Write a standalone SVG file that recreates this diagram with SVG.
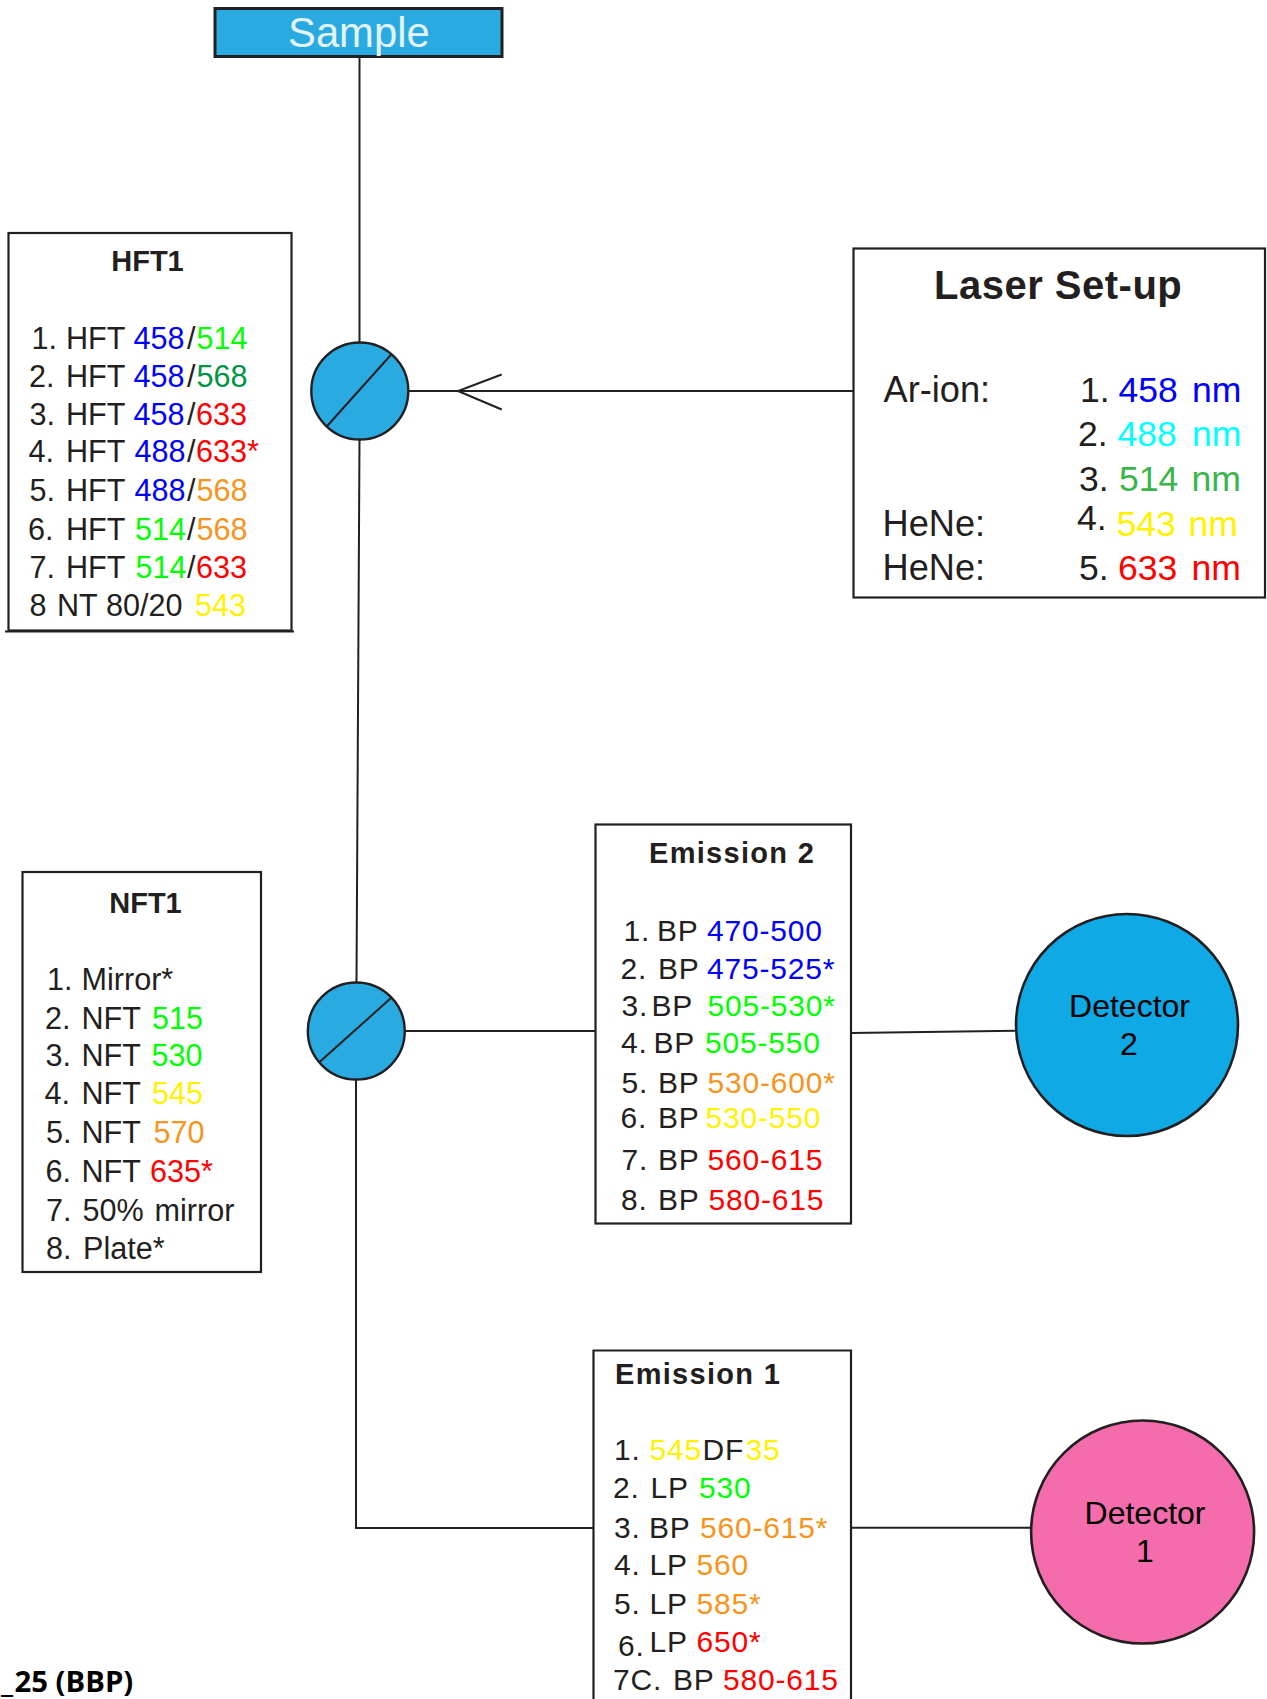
<svg xmlns="http://www.w3.org/2000/svg" width="1267" height="1699" viewBox="0 0 1267 1699">
<style>
text{font-family:"Liberation Sans",Arial,sans-serif;fill:#231f20}
.box{fill:#fff;stroke:#231f20;stroke-width:2.2}
.ln{fill:none;stroke:#231f20;stroke-width:2}
.cir{fill:#29abe2;stroke:#231f20;stroke-width:2.4}
.ttl{font-weight:bold;font-size:29px}
.h{font-size:30.6px}
.l{font-size:35.6px}
.n{font-size:30.6px}
.e{font-size:30px}
.e tspan{letter-spacing:.8px}
.det{font-size:32px;fill:#000;text-anchor:middle}
.B{fill:#0000ff}.G{fill:#00ff00}.D{fill:#009444}.O{fill:#f7941d}.Y{fill:#fff200}.R{fill:#ff0000}.C{fill:#00ffff}.M{fill:#39b54a}
</style>
<g id="connectors">
<path class="ln" d="M359.5 57V342"/>
<path class="ln" d="M359.5 440L356.5 982"/>
<path class="ln" d="M356 1080V1528H593"/>
<path class="ln" d="M408 391H853"/>
<path class="ln" d="M501.7 374.5L458 391L501.7 409.5"/>
<path class="ln" d="M405 1031H595"/>
<path class="ln" d="M851 1033L1016 1030.7"/>
<path class="ln" d="M851 1527.7H1033"/>
</g>
<g id="sample">
<rect x="215" y="8.5" width="287" height="48" fill="#29abe2" stroke="#231f20" stroke-width="3"/>
<text x="288" y="47" font-size="41.8" style="fill:#e4f3fa">Sample</text>
</g>
<g id="hft1">
<rect class="box" x="8.5" y="233" width="283" height="397.5" stroke-width="2.6"/>
<path class="ln" d="M5 631.5H294" stroke-width="2.4"/>
<text class="ttl" x="147.5" y="271" text-anchor="middle">HFT1</text>
<text class="h" y="349"><tspan x="31.5">1.</tspan><tspan x="66">HFT</tspan><tspan x="133.5" class="B">458</tspan><tspan x="187">/</tspan><tspan x="196.5" class="G">514</tspan></text>
<text class="h" y="386.5"><tspan x="29">2.</tspan><tspan x="66">HFT</tspan><tspan x="133.5" class="B">458</tspan><tspan x="187">/</tspan><tspan x="196.5" class="D">568</tspan></text>
<text class="h" y="424.5"><tspan x="29.5">3.</tspan><tspan x="66">HFT</tspan><tspan x="133.5" class="B">458</tspan><tspan x="187">/</tspan><tspan x="196" class="R">633</tspan></text>
<text class="h" y="462"><tspan x="28.5">4.</tspan><tspan x="66">HFT</tspan><tspan x="134.5" class="B">488</tspan><tspan x="187">/</tspan><tspan x="196" class="R">633*</tspan></text>
<text class="h" y="501"><tspan x="29.5">5.</tspan><tspan x="66">HFT</tspan><tspan x="134.5" class="B">488</tspan><tspan x="187">/</tspan><tspan x="196.5" class="O">568</tspan></text>
<text class="h" y="539.6"><tspan x="28">6.</tspan><tspan x="66">HFT</tspan><tspan x="135" class="G">514</tspan><tspan x="187">/</tspan><tspan x="196.5" class="O">568</tspan></text>
<text class="h" y="578.4"><tspan x="29.5">7.</tspan><tspan x="66">HFT</tspan><tspan x="135.5" class="G">514</tspan><tspan x="187">/</tspan><tspan x="196" class="R">633</tspan></text>
<text class="h" y="615.5"><tspan x="29.5">8</tspan><tspan x="57">NT</tspan><tspan x="106">80/20</tspan><tspan x="195" class="Y">543</tspan></text>
</g>
<g id="dichroic1">
<circle class="cir" cx="359.8" cy="391" r="48.5"/>
<path class="ln" d="M391.7 354L326.7 426.5"/>
</g>
<g id="laser">
<rect class="box" x="853.5" y="248.5" width="411.5" height="349" stroke-width="2.6"/>
<text class="ttl" x="934" y="299" style="font-size:40px;letter-spacing:.5px">Laser Set-up</text>
<text class="l" x="883.5" y="401.7" style="font-size:36.2px">Ar-ion:</text>
<text class="l" x="882.5" y="535.5" style="font-size:36.2px">HeNe:</text>
<text class="l" x="882.5" y="580" style="font-size:36.2px">HeNe:</text>
<text class="l" y="401.7"><tspan x="1080">1.</tspan><tspan x="1118.5" class="B">458</tspan><tspan x="1192" class="B">nm</tspan></text>
<text class="l" y="445.7"><tspan x="1078">2.</tspan><tspan x="1117.5" class="C">488</tspan><tspan x="1192" class="C">nm</tspan></text>
<text class="l" y="490.7"><tspan x="1079">3.</tspan><tspan x="1119" class="M">514</tspan><tspan x="1191.5" class="M">nm</tspan></text>
<text class="l" y="530"><tspan x="1077">4.</tspan></text>
<text class="l" y="535.5"><tspan x="1116.5" class="Y">543</tspan><tspan x="1188.5" class="Y">nm</tspan></text>
<text class="l" y="579.8"><tspan x="1079">5.</tspan><tspan x="1118" class="R">633</tspan><tspan x="1191.5" class="R">nm</tspan></text>
</g>
<g id="nft1">
<rect class="box" x="22.5" y="872" width="238.5" height="400"/>
<text class="ttl" x="145.5" y="913" text-anchor="middle">NFT1</text>
<text class="n" y="989.8"><tspan x="47">1.</tspan><tspan x="81.5">Mirror*</tspan></text>
<text class="n" y="1028.8"><tspan x="45">2.</tspan><tspan x="81.5">NFT</tspan><tspan x="152" class="G">515</tspan></text>
<text class="n" y="1065.5"><tspan x="45.5">3.</tspan><tspan x="81.5">NFT</tspan><tspan x="151.5" class="G">530</tspan></text>
<text class="n" y="1104.3"><tspan x="44.5">4.</tspan><tspan x="81.5">NFT</tspan><tspan x="152" class="Y">545</tspan></text>
<text class="n" y="1142.7"><tspan x="46">5.</tspan><tspan x="81.5">NFT</tspan><tspan x="153.5" class="O">570</tspan></text>
<text class="n" y="1181.5"><tspan x="45.5">6.</tspan><tspan x="81.5">NFT</tspan><tspan x="150" class="R">635*</tspan></text>
<text class="n" y="1220.7"><tspan x="46">7.</tspan><tspan x="82.5">50%</tspan><tspan x="154.5">mirror</tspan></text>
<text class="n" y="1258.8"><tspan x="46">8.</tspan><tspan x="83">Plate*</tspan></text>
</g>
<g id="dichroic2">
<circle class="cir" cx="356.3" cy="1031" r="48.5"/>
<path class="ln" d="M390.7 998.3L319.3 1062.3"/>
</g>
<g id="emission2">
<rect class="box" x="595.5" y="824.5" width="255.5" height="399"/>
<text class="ttl" x="649" y="862.7" style="letter-spacing:1.3px">Emission 2</text>
<text class="e" y="940.7"><tspan x="623.5">1.</tspan><tspan x="657">BP</tspan><tspan x="707" class="B">470-500</tspan></text>
<text class="e" y="979"><tspan x="620.5">2.</tspan><tspan x="658">BP</tspan><tspan x="707" class="B">475-525*</tspan></text>
<text class="e" y="1015.7"><tspan x="621.5">3.</tspan><tspan x="651.5">BP</tspan><tspan x="707.5" class="G">505-530*</tspan></text>
<text class="e" y="1052.7"><tspan x="621">4.</tspan><tspan x="653.5">BP</tspan><tspan x="705" class="G">505-550</tspan></text>
<text class="e" y="1092.7"><tspan x="621.5">5.</tspan><tspan x="658">BP</tspan><tspan x="707.5" class="O">530-600*</tspan></text>
<text class="e" y="1128.3"><tspan x="620.5">6.</tspan><tspan x="658">BP</tspan><tspan x="705.5" class="Y">530-550</tspan></text>
<text class="e" y="1170"><tspan x="621.5">7.</tspan><tspan x="658">BP</tspan><tspan x="707.5" class="R">560-615</tspan></text>
<text class="e" y="1209.8"><tspan x="621">8.</tspan><tspan x="658">BP</tspan><tspan x="708.5" class="R">580-615</tspan></text>
</g>
<g id="detector2">
<circle cx="1127" cy="1025" r="111" fill="#0fa9e6" stroke="#231f20" stroke-width="2.6"/>
<text class="det" x="1129.5" y="1017">Detector</text>
<text class="det" x="1129" y="1055">2</text>
</g>
<g id="emission1">
<path d="M593.5 1699V1350.5H851V1699" class="box"/>
<text class="ttl" x="615" y="1384" style="letter-spacing:1.3px">Emission 1</text>
<text class="e" y="1459.8"><tspan x="614">1.</tspan><tspan x="649.5" class="Y">545</tspan><tspan x="702.5">DF</tspan><tspan x="745.5" class="Y">35</tspan></text>
<text class="e" y="1498.3"><tspan x="613">2.</tspan><tspan x="650.5">LP</tspan><tspan x="699" class="G">530</tspan></text>
<text class="e" y="1537.8"><tspan x="614">3.</tspan><tspan x="649">BP</tspan><tspan x="700" class="O">560-615*</tspan></text>
<text class="e" y="1575"><tspan x="614">4.</tspan><tspan x="649.5">LP</tspan><tspan x="696.5" class="O">560</tspan></text>
<text class="e" y="1614"><tspan x="614">5.</tspan><tspan x="649.5">LP</tspan><tspan x="696.5" class="O">585*</tspan></text>
<text class="e" y="1655.7"><tspan x="618">6.</tspan></text>
<text class="e" y="1652.3"><tspan x="649.5">LP</tspan><tspan x="696.5" class="R">650*</tspan></text>
<text class="e" y="1690"><tspan x="613">7C.</tspan><tspan x="673">BP</tspan><tspan x="723" class="R">580-615</tspan></text>
</g>
<g id="detector1">
<circle cx="1142.6" cy="1532" r="111.5" fill="#f46cac" stroke="#231f20" stroke-width="2.6"/>
<text class="det" x="1145" y="1524">Detector</text>
<text class="det" x="1145" y="1562">1</text>
</g>
<text id="caption" y="1691.7" style="font-family:'Open Sans',sans-serif;font-weight:bold;font-size:29.3px;fill:#000"><tspan x="1">_</tspan><tspan x="14.5">25 (BBP)</tspan></text>
</svg>
